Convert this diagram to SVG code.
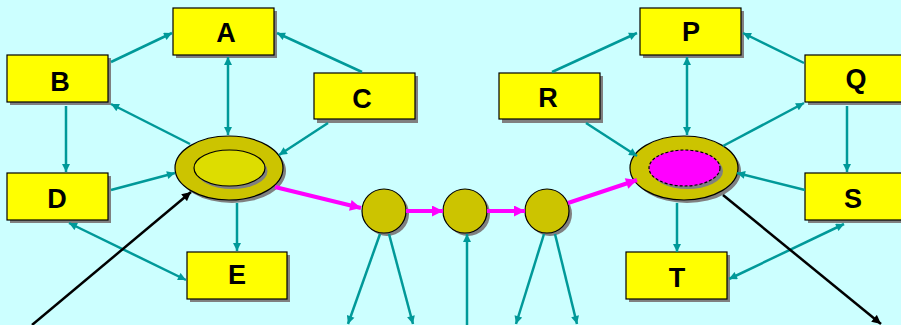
<svg xmlns="http://www.w3.org/2000/svg" width="901" height="325" viewBox="0 0 901 325">
<defs>
<style>
.box{fill:#FFFF00;stroke:#000;stroke-width:1.2}
.sh{fill:#808080}
.lbl{font-family:"Liberation Sans",Arial,sans-serif;font-weight:bold;font-size:27px;fill:#000;text-anchor:middle}
.outer{fill:#CCC400;stroke:#000;stroke-width:1.2}
.circ{fill:#CCC400;stroke:#000;stroke-width:1.2}
.t{stroke:#009999;stroke-width:2.5;fill:none;marker-end:url(#mt)}
.t2{stroke:#009999;stroke-width:2.5;fill:none;marker-end:url(#mt);marker-start:url(#mt)}
.m{stroke:#FF00FF;stroke-width:4;fill:none;marker-end:url(#mm)}
.k{stroke:#000;stroke-width:2.5;fill:none;marker-end:url(#mk)}
</style>
<marker id="mt" viewBox="0 0 10 10" refX="10" refY="5" markerWidth="9" markerHeight="8" markerUnits="userSpaceOnUse" orient="auto-start-reverse"><path d="M0,0 L10,5 L0,10 z" fill="#009999"/></marker>
<marker id="mm" viewBox="0 0 10 10" refX="10" refY="5" markerWidth="13" markerHeight="11" markerUnits="userSpaceOnUse" orient="auto"><path d="M0,0 L10,5 L0,10 z" fill="#FF00FF"/></marker>
<marker id="mk" viewBox="0 0 10 10" refX="10" refY="5" markerWidth="10" markerHeight="9" markerUnits="userSpaceOnUse" orient="auto"><path d="M0,0 L10,5 L0,10 z" fill="#000"/></marker>
</defs>
<rect width="901" height="325" fill="#CCFFFF"/>

<g id="A"><rect class="sh" x="176" y="11" width="101" height="47"/><rect class="box" x="173" y="8" width="101" height="47"/><text class="lbl" x="226" y="42">A</text></g>
<g id="B"><rect class="sh" x="10" y="58" width="101" height="47"/><rect class="box" x="7" y="55" width="101" height="47"/><text class="lbl" x="60" y="91">B</text></g>
<g id="C"><rect class="sh" x="317" y="76" width="101" height="47"/><rect class="box" x="314" y="73" width="101" height="46"/><text class="lbl" x="362" y="108">C</text></g>
<g id="D"><rect class="sh" x="10" y="176" width="101" height="47"/><rect class="box" x="7" y="173" width="101" height="47"/><text class="lbl" x="57" y="208">D</text></g>
<g id="E"><rect class="sh" x="190" y="255" width="100" height="47"/><rect class="box" x="187" y="252" width="100" height="47"/><text class="lbl" x="237" y="284">E</text></g>

<g id="P"><rect class="sh" x="643" y="11" width="101" height="47"/><rect class="box" x="640" y="8" width="101" height="47"/><text class="lbl" x="691" y="41">P</text></g>
<g id="Q"><rect class="sh" x="808" y="58" width="101" height="47"/><rect class="box" x="805" y="55" width="101" height="47"/><text class="lbl" x="856" y="88">Q</text></g>
<g id="R"><rect class="sh" x="502" y="76" width="101" height="47"/><rect class="box" x="499" y="73" width="101" height="46"/><text class="lbl" x="548" y="107">R</text></g>
<g id="S"><rect class="sh" x="808" y="176" width="101" height="47"/><rect class="box" x="805" y="173" width="101" height="47"/><text class="lbl" x="853" y="208">S</text></g>
<g id="T"><rect class="sh" x="629" y="255" width="101" height="47"/><rect class="box" x="626" y="252" width="101" height="47"/><text class="lbl" x="677" y="287">T</text></g>

<g id="hubL">
<ellipse class="sh" cx="232" cy="171" rx="54" ry="32"/>
<ellipse class="outer" cx="229" cy="168" rx="54" ry="32"/>
<ellipse class="sh" cx="232" cy="171" rx="35.5" ry="18"/>
<ellipse cx="229.5" cy="168" rx="35.5" ry="18" fill="#DDDD00" stroke="#000" stroke-width="1.2"/>
</g>
<g id="hubR">
<ellipse class="sh" cx="687" cy="171" rx="54" ry="32"/>
<ellipse class="outer" cx="684" cy="168" rx="54" ry="32"/>
<ellipse class="sh" cx="687.5" cy="171" rx="35.5" ry="18"/>
<ellipse cx="684.5" cy="168" rx="35.5" ry="18" fill="#FF00FF" stroke="#000" stroke-width="1.2" stroke-dasharray="3,2"/>
</g>
<g id="n1"><circle class="sh" cx="387" cy="214" r="22"/><circle class="circ" cx="384" cy="211" r="22"/></g>
<g id="n2"><circle class="sh" cx="468" cy="214" r="22"/><circle class="circ" cx="465" cy="211" r="22"/></g>
<g id="n3"><circle class="sh" cx="550" cy="214" r="22"/><circle class="circ" cx="547" cy="211" r="22"/></g>

<g id="connectors">
<line class="t" x1="111" y1="62" x2="172" y2="33"/>
<line class="t" x1="362" y1="72" x2="277" y2="33"/>
<line class="t2" x1="228" y1="57" x2="228" y2="135"/>
<line class="t" x1="190" y1="144" x2="111" y2="104"/>
<line class="t" x1="328" y1="123" x2="279" y2="155"/>
<line class="t" x1="66" y1="106" x2="66" y2="172"/>
<line class="t" x1="111" y1="190" x2="175" y2="173"/>
<line class="t" x1="237" y1="203" x2="237" y2="251"/>
<line class="t2" x1="69" y1="223" x2="186" y2="280"/>

<line class="t" x1="552" y1="72" x2="637" y2="33"/>
<line class="t" x1="804" y1="63" x2="743" y2="33"/>
<line class="t2" x1="687" y1="57" x2="687" y2="135"/>
<line class="t" x1="586" y1="123" x2="637" y2="156"/>
<line class="t" x1="723" y1="146" x2="804" y2="103"/>
<line class="t" x1="847" y1="106" x2="847" y2="172"/>
<line class="t" x1="805" y1="190" x2="737" y2="173"/>
<line class="t" x1="677" y1="203" x2="677" y2="252"/>
<line class="t2" x1="844" y1="224" x2="729" y2="279"/>

<line class="t" x1="380" y1="234" x2="348" y2="324"/>
<line class="t" x1="389" y1="234" x2="413" y2="324"/>
<line class="t" x1="467" y1="325" x2="467" y2="234"/>
<line class="t" x1="544" y1="234" x2="516" y2="324"/>
<line class="t" x1="555" y1="234" x2="577" y2="324"/>

<line class="m" x1="275" y1="187" x2="361" y2="208"/>
<line class="m" x1="406" y1="211" x2="443" y2="211"/>
<line class="m" x1="487" y1="211" x2="525" y2="211"/>
<line class="m" x1="568" y1="203" x2="637" y2="180"/>

<line class="k" x1="32" y1="325" x2="191" y2="192"/>
<line class="k" x1="723" y1="195" x2="881" y2="324"/>
</g>
</svg>
